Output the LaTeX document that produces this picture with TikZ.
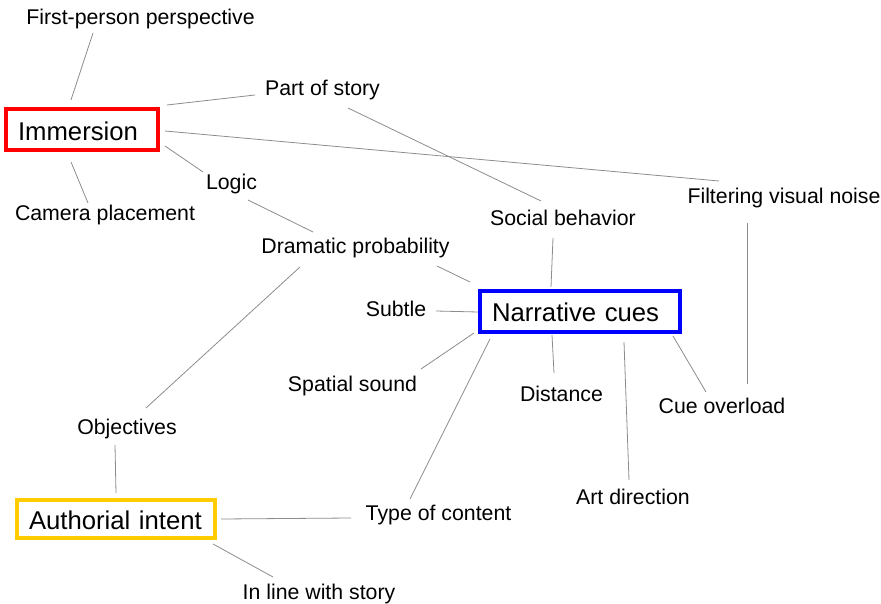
\documentclass[tikz,border=0pt]{standalone}
\usepackage{fontspec}
\setmainfont{Liberation Sans}

\definecolor{immred}{RGB}{255,0,0}
\definecolor{cueblue}{RGB}{0,0,255}
\definecolor{intyellow}{RGB}{255,204,0}
\definecolor{linkgray}{RGB}{140,140,140}

\tikzset{
	topic/.style={draw, line width=4pt, inner xsep=12pt, minimum height=41pt, align=left,
		font=\fontsize{25.7}{30}\selectfont, text height=21.5pt, text depth=0pt},
	idea/.style={anchor=base, inner sep=0pt, font=\fontsize{21.3}{25}\selectfont},
	link/.style={linkgray, line width=0.8pt},
}

\begin{document}
\begin{tikzpicture}[x=1pt, y=-1pt]
\useasboundingbox (0,0) rectangle (881,604);

% main topics
\node[topic, draw=immred, text width=128pt] (imm) at (82,129.5) {Immersion};
\node[topic, draw=cueblue, text width=176pt] (narr) at (580,311) {Narrative cues};
\node[topic, draw=intyellow, text width=174pt, minimum height=38pt] (auth) at (116,519) {Authorial intent};

% ideas
\node[idea] (fpp)   at (140.5,25)  {First-person perspective};
\node[idea] (story) at (322.5,96)  {Part of story};
\node[idea] (cam)   at (105,221)   {Camera placement};
\node[idea] (logic) at (231.5,190) {Logic};
\node[idea] (drama) at (355.5,254) {Dramatic probability};
\node[idea] (social) at (563,226)  {Social behavior};
\node[idea] (noise) at (784,204)   {Filtering visual noise};
\node[idea] (subtle) at (396,316)  {Subtle};
\node[idea] (sound) at (352.5,391) {Spatial sound};
\node[idea] (dist)  at (561.5,401) {Distance};
\node[idea] (over)  at (722,413)   {Cue overload};
\node[idea] (art)   at (633,504)   {Art direction};
\node[idea] (obj)   at (127,434)   {Objectives};
\node[idea] (type)  at (438.5,520) {Type of content};
\node[idea] (inline) at (319,599)  {In line with story};

% links
\draw[link] ([shift={(-47.5,8)}]fpp.base) -- ([shift={(-11,-29.5)}]imm.center);
\draw[link] ([shift={(85,-24.5)}]imm.center) -- ([shift={(-67.5,-1)}]story.base);
\draw[link] ([shift={(83,1.5)}]imm.center) -- ([shift={(-65,-23)}]noise.base);
\draw[link] ([shift={(25.5,12)}]story.base) -- ([shift={(-22,-25)}]social.base);
\draw[link] ([shift={(-11,32.5)}]imm.center) -- ([shift={(-17,-18)}]cam.base);
\draw[link] ([shift={(83,16.5)}]imm.center) -- ([shift={(-28.5,-18)}]logic.base);
\draw[link] ([shift={(16.5,10)}]logic.base) -- ([shift={(-42.5,-22)}]drama.base);
\draw[link] ([shift={(81.5,12)}]drama.base) -- ([shift={(-110,-29)}]narr.center);
\draw[link] ([shift={(-55.5,13)}]drama.base) -- ([shift={(19,-26)}]obj.base);
\draw[link] ([shift={(40,-5)}]subtle.base) -- ([shift={(-102,1)}]narr.center);
\draw[link] ([shift={(68.5,-22)}]sound.base) -- ([shift={(-106,22)}]narr.center);
\draw[link] ([shift={(-28.5,-21)}]type.base) -- ([shift={(-90,28)}]narr.center);
\draw[link] ([shift={(-12,11)}]obj.base) -- ([shift={(0,-26)}]auth.center);
\draw[link] ([shift={(105,0)}]auth.center) -- ([shift={(-87.5,-2)}]type.base);
\draw[link] ([shift={(97,25)}]auth.center) -- ([shift={(-46,-22)}]inline.base);
\draw[link] ([shift={(-10,12)}]social.base) -- ([shift={(-29,-24)}]narr.center);
\draw[link] ([shift={(-28,24)}]narr.center) -- ([shift={(-7.5,-28)}]dist.base);
\draw[link] ([shift={(44,31)}]narr.center) -- ([shift={(-4,-24)}]art.base);
\draw[link] ([shift={(93,25)}]narr.center) -- ([shift={(-16,-21)}]over.base);
\draw[link] ([shift={(-37,19)}]noise.base) -- ([shift={(25,-29)}]over.base);
\end{tikzpicture}
\end{document}
